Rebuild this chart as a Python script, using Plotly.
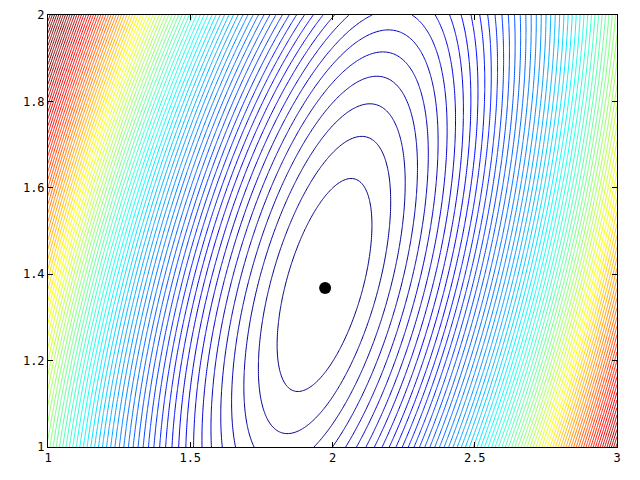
import numpy as np
import plotly.graph_objects as go

# Quadratic cost surface: J = a*dx^2 + 2*b*dx*dy + c*dy^2
surface_center = [1.972, 1.375]
quad_a = 1.0
quad_b = -0.38
quad_c = 0.457
level_start = 0.019
level_step = 0.018
color_top_fraction = 0.9   # colour scale tops out slightly below the corner value

# black dot (minimum found)
dot_x = [1.974]
dot_y = [1.368]

x_range = [1, 3]
y_range = [1, 2]
x_ticks = [1, 1.5, 2, 2.5, 3]
x_tick_text = ["1", "1.5", "2", "2.5", "3"]
y_ticks = [1, 1.2, 1.4, 1.6, 1.8, 2]
y_tick_text = ["1", "1.2", "1.4", "1.6", "1.8", "2"]

xs = np.linspace(x_range[0], x_range[1], 401)
ys = np.linspace(y_range[0], y_range[1], 201)
X, Y = np.meshgrid(xs, ys)
DX = X - surface_center[0]
DY = Y - surface_center[1]
Z = quad_a * DX**2 + 2 * quad_b * DX * DY + quad_c * DY**2

jet = [
    [0.0, "rgb(0,0,128)"],
    [0.125, "rgb(0,0,255)"],
    [0.375, "rgb(0,255,255)"],
    [0.625, "rgb(255,255,0)"],
    [0.875, "rgb(255,0,0)"],
    [1.0, "rgb(128,0,0)"],
]

fig = go.Figure()
fig.add_trace(go.Contour(
    x=xs, y=ys, z=Z,
    colorscale=jet,
    zauto=False, zmin=0, zmax=float(Z.max()) * color_top_fraction,
    contours=dict(start=level_start, end=float(Z.max()), size=level_step,
                  coloring="lines"),
    line=dict(width=1),
    showscale=False,
    hoverinfo="skip",
))
fig.add_trace(go.Scatter(
    x=dot_x, y=dot_y, mode="markers",
    marker=dict(color="black", size=12),
    showlegend=False, hoverinfo="skip",
))

axis_font = dict(family="DejaVu Sans Mono", size=12, color="black")
common = dict(ticks="inside", ticklen=5, tickcolor="black", mirror="allticks",
              showline=True, linecolor="black", linewidth=1, showgrid=False,
              zeroline=False, tickfont=axis_font)
fig.update_layout(
    width=640, height=480,
    margin=dict(l=48, r=23, t=15, b=33, autoexpand=False),
    paper_bgcolor="white", plot_bgcolor="white",
    showlegend=False,
    xaxis=dict(range=x_range, tickvals=x_ticks, ticktext=x_tick_text, **common),
    yaxis=dict(range=y_range, tickvals=y_ticks, ticktext=y_tick_text, **common),
)

fig.write_html("out.html", config={"displayModeBar": False},
               post_script="document.body.style.margin='0';document.body.style.overflow='hidden';")
